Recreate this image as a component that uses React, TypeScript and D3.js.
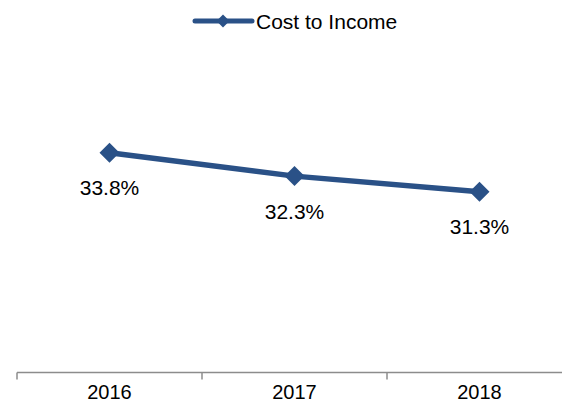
import React from "react";
import * as d3 from "d3";

const categories: string[] = ["2016", "2017", "2018"];
const costToIncome: number[] = [33.8, 32.3, 31.3];
const seriesName = "Cost to Income";

const W = 562;
const H = 410;
const COLOR = "#2A5187";
const AXIS = "#8C8C8C";
const FONT = "Arial, 'Liberation Sans', Helvetica, sans-serif";

export default function App() {
  const x = d3.scaleBand<string>().domain(categories).range([17, 572]).padding(0);
  const y = d3.scaleLinear().domain([20, 40]).range([368, 56]);
  const axisY = 372.5;

  const line = d3
    .line<number>()
    .x((_, i) => (x(categories[i]) as number) + x.bandwidth() / 2)
    .y((d) => y(d));

  const diamond = (cx: number, cy: number, r: number) =>
    `M${cx},${cy - r}L${cx + r},${cy}L${cx},${cy + r}L${cx - r},${cy}Z`;

  const tickXs = [...categories.map((c) => x(c) as number), 572];

  return (
    <svg
      width={W}
      height={H}
      style={{ position: "absolute", left: 0, top: 0, background: "#fff" }}
      fontFamily={FONT}
    >
      {/* legend */}
      <g>
        <line x1={195} x2={252} y1={21} y2={21} stroke={COLOR} strokeWidth={5} strokeLinecap="round" />
        <path d={diamond(223, 21, 6.5)} fill={COLOR} />
        <text x={256} y={28.5} fontSize={21} fill="#000">
          {seriesName}
        </text>
      </g>

      {/* axis */}
      <line x1={17} x2={562} y1={axisY} y2={axisY} stroke={AXIS} strokeWidth={1.5} />
      {tickXs.map((tx, i) => (
        <line key={i} x1={tx} x2={tx} y1={axisY} y2={axisY + 7} stroke={AXIS} strokeWidth={1.5} />
      ))}
      {categories.map((c) => (
        <text
          key={c}
          x={(x(c) as number) + x.bandwidth() / 2}
          y={399}
          textAnchor="middle"
          fontSize={20}
          fill="#000"
        >
          {c}
        </text>
      ))}

      {/* series */}
      <path d={line(costToIncome) || ""} fill="none" stroke={COLOR} strokeWidth={5.5} strokeLinejoin="round" />
      {costToIncome.map((v, i) => {
        const cx = (x(categories[i]) as number) + x.bandwidth() / 2;
        const cy = y(v);
        return (
          <g key={i}>
            <path d={diamond(cx, cy, 10)} fill={COLOR} />
            <text x={cx} y={cy + 42.5} textAnchor="middle" fontSize={21} fill="#000">
              {v.toFixed(1)}%
            </text>
          </g>
        );
      })}
    </svg>
  );
}
